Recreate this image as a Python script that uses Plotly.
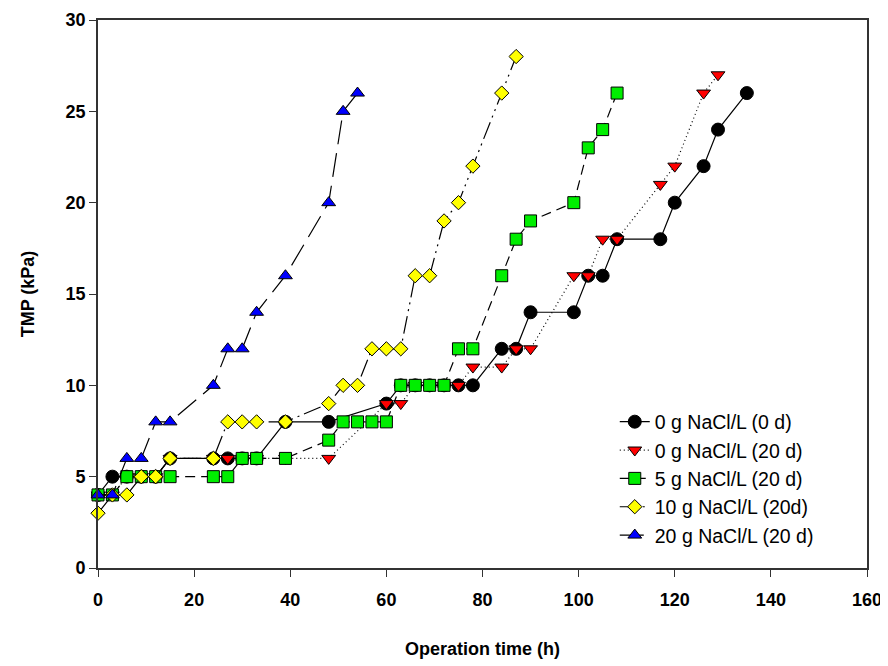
import plotly.graph_objects as go

# ---- data ----
t_0d = [0, 3, 6, 9, 12, 15, 24, 27, 30, 33, 39, 48, 60, 63, 66, 69, 72, 75, 78,
        84, 87, 90, 99, 102, 105, 108, 117, 120, 126, 129, 135]
tmp_0d = [4, 5, 5, 5, 5, 6, 6, 6, 6, 6, 8, 8, 9, 10, 10, 10, 10, 10, 10,
          12, 12, 14, 14, 16, 16, 18, 18, 20, 22, 24, 26]

t_0g20 = [0, 3, 6, 9, 12, 15, 24, 27, 30, 33, 39, 48, 60, 63, 66, 69, 72, 75, 78,
          84, 87, 90, 99, 102, 105, 108, 117, 120, 126, 129]
tmp_0g20 = [4, 4, 5, 5, 5, 6, 6, 6, 6, 6, 6, 6, 9, 9, 10, 10, 10, 10, 11,
            11, 12, 12, 16, 16, 18, 18, 21, 22, 26, 27]

t_5g = [0, 3, 6, 9, 12, 15, 24, 27, 30, 33, 39, 48, 51, 54, 57, 60, 63, 66, 69, 72,
        75, 78, 84, 87, 90, 99, 102, 105, 108]
tmp_5g = [4, 4, 5, 5, 5, 5, 5, 5, 6, 6, 6, 7, 8, 8, 8, 8, 10, 10, 10, 10,
          12, 12, 16, 18, 19, 20, 23, 24, 26]

t_10g = [0, 3, 6, 9, 12, 15, 24, 27, 30, 33, 39, 48, 51, 54, 57, 60, 63, 66, 69, 72,
         75, 78, 84, 87]
tmp_10g = [3, 4, 4, 5, 5, 6, 6, 8, 8, 8, 8, 9, 10, 10, 12, 12, 12, 16, 16, 19,
           20, 22, 26, 28]

t_20g = [0, 3, 6, 9, 12, 15, 24, 27, 30, 33, 39, 48, 51, 54]
tmp_20g = [4, 4, 6, 6, 8, 8, 10, 12, 12, 14, 16, 20, 25, 26]

names = ["0 g NaCl/L (0 d)", "0 g NaCl/L (20 d)", "5 g NaCl/L (20 d)",
         "10 g NaCl/L (20d)", "20 g NaCl/L (20 d)"]
x_ticks = [0, 20, 40, 60, 80, 100, 120, 140, 160]
y_ticks = [0, 5, 10, 15, 20, 25, 30]

series = [
    (t_0d, tmp_0d, "circle", "black", 13, "solid"),
    (t_0g20, tmp_0g20, "triangle-down", "#ff0000", 12, "1px,3px"),
    (t_5g, tmp_5g, "square", "#00ee00", 12, "10px,6px"),
    (t_10g, tmp_10g, "diamond", "#ffff00", 11, "18px,5px,2px,5px,2px,5px"),
    (t_20g, tmp_20g, "triangle-up", "#0000ff", 12, "24px,9px"),
]

fig = go.Figure()
for (x, y, sym, col, sz, dash), nm in zip(series, names):
    fig.add_trace(go.Scatter(
        x=x, y=y, name=nm, mode="lines+markers", cliponaxis=False,
        line=dict(color="black", width=1.2, dash=dash),
        marker=dict(symbol=sym, size=sz, color=col,
                    line=dict(color="black", width=1)),
    ))

axis_common = dict(
    showline=True, linecolor="#333333", linewidth=1.6, mirror=True,
    ticks="outside", ticklen=7, tickwidth=1.2, tickcolor="#333333",
    showgrid=False, zeroline=False, automargin=False,
    ticklabeloverflow="allow",
    tickfont=dict(family="Liberation Sans", size=18, color="black", weight="bold"),
)

fig.update_layout(
    width=888, height=666,
    margin=dict(l=90, r=29, t=12, b=106),
    paper_bgcolor="white", plot_bgcolor="white",
    font=dict(family="Liberation Sans", color="black"),
    showlegend=True,
    legend=dict(x=0.672, y=0.302, xanchor="left", yanchor="top",
                bgcolor="rgba(0,0,0,0)",
                font=dict(family="Liberation Sans", size=19.5, color="black"),
                tracegroupgap=0),
    xaxis=dict(range=[0, 160], tickvals=x_ticks, ticklabelstandoff=8,
               title=dict(text="Operation time (h)", standoff=33,
                          font=dict(family="Liberation Sans", size=18,
                                    color="black", weight="bold")),
               **axis_common),
    yaxis=dict(range=[0, 30], tickvals=y_ticks,
               title=dict(text="TMP (kPa)", standoff=26,
                          font=dict(family="Liberation Sans", size=18,
                                    color="black", weight="bold")),
               **axis_common),
)

fig.write_html("out.html")
